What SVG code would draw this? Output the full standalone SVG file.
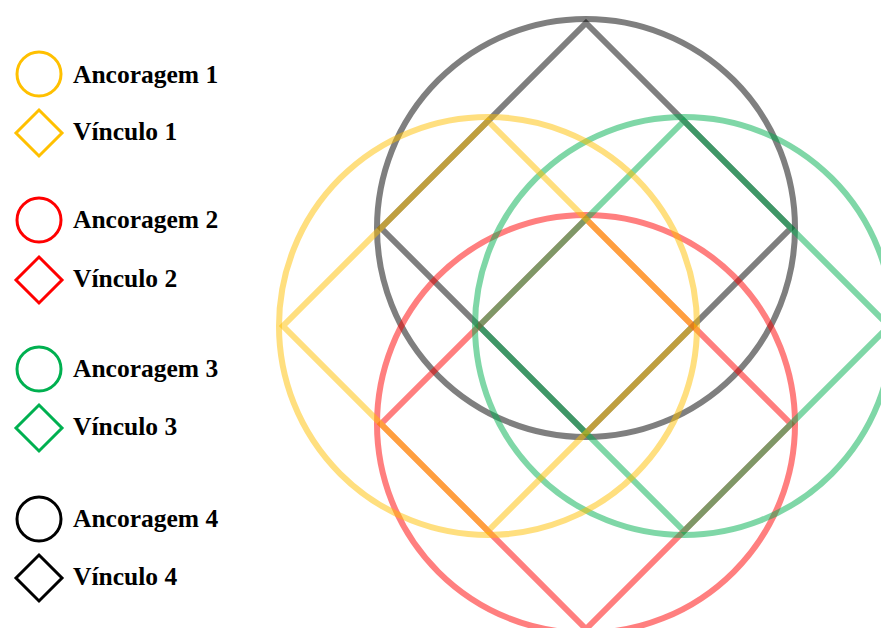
<svg xmlns="http://www.w3.org/2000/svg" width="881" height="628" viewBox="0 0 881 628">
<style>
.big{fill:none;stroke-width:6;stroke-opacity:0.5;stroke-linejoin:miter}
.leg{fill:none;stroke-width:3}
.y{stroke:#FFC000}.r{stroke:#FF0000}.g{stroke:#00B050}.k{stroke:#000000}
text{font-family:"Liberation Serif","Times New Roman",serif;font-weight:bold;font-size:25.5px;fill:#000}
</style>
<rect width="881" height="628" fill="#fff"/>
<g id="legend">
<g id="leg-anc1"><circle class="leg y" cx="39" cy="74" r="22"/><text x="73" y="83">Ancoragem 1</text></g>
<g id="leg-vin1"><path class="leg y" d="M39 110 L62 133 L39 156 L16 133 Z"/><text x="73" y="140">Vínculo 1</text></g>
<g id="leg-anc2"><circle class="leg r" cx="39" cy="220" r="22"/><text x="73" y="228">Ancoragem 2</text></g>
<g id="leg-vin2"><path class="leg r" d="M39 257 L62 280 L39 303 L16 280 Z"/><text x="73" y="287">Vínculo 2</text></g>
<g id="leg-anc3"><circle class="leg g" cx="39" cy="369" r="22"/><text x="73" y="377">Ancoragem 3</text></g>
<g id="leg-vin3"><path class="leg g" d="M39 405 L62 428 L39 451 L16 428 Z"/><text x="73" y="435">Vínculo 3</text></g>
<g id="leg-anc4"><circle class="leg k" cx="39" cy="519" r="22"/><text x="73" y="527">Ancoragem 4</text></g>
<g id="leg-vin4"><path class="leg k" d="M39 555 L62 578 L39 601 L16 578 Z"/><text x="73" y="585">Vínculo 4</text></g>
</g>
<g id="ancoragem4"><circle class="big k" cx="586" cy="228" r="209"/></g>
<g id="vinculo4"><path class="big k" d="M586 23 L791 228 L586 433 L381 228 Z"/></g>
<g id="ancoragem2"><circle class="big r" cx="586" cy="424" r="209"/></g>
<g id="vinculo2"><path class="big r" d="M586 219 L791 424 L586 629 L381 424 Z"/></g>
<g id="ancoragem3"><circle class="big g" cx="684" cy="326" r="209"/></g>
<g id="vinculo3"><path class="big g" d="M684 121 L889 326 L684 531 L479 326 Z"/></g>
<g id="ancoragem1"><circle class="big y" cx="488" cy="326" r="209"/></g>
<g id="vinculo1"><path class="big y" d="M488 121 L693 326 L488 531 L283 326 Z"/></g>
</svg>
